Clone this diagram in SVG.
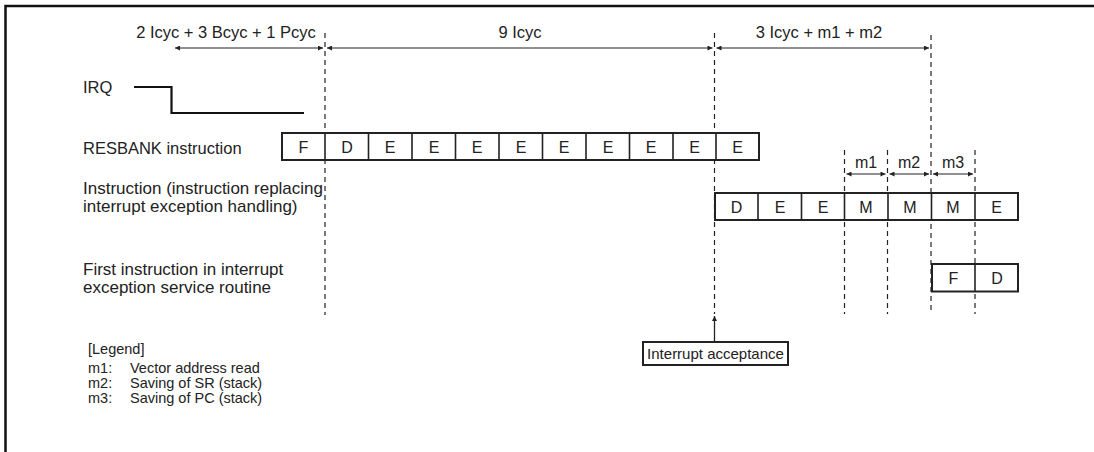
<svg xmlns="http://www.w3.org/2000/svg" width="1094" height="452" viewBox="0 0 1094 452">
<defs>
<marker id="ah" viewBox="0 0 10 10" refX="10" refY="5" markerWidth="7" markerHeight="5" orient="auto-start-reverse" markerUnits="userSpaceOnUse">
<path d="M0,0 L10,5 L0,10 z" fill="#222"/>
</marker>
<style>
text{font-family:"Liberation Sans",Arial,sans-serif;font-size:16.5px;fill:#222}
.c{text-anchor:middle}
.cl{text-anchor:middle;font-size:16px}
.rl{font-size:17px}
.lg{font-size:14.5px}
.box{fill:#fff;stroke:#222;stroke-width:2}
.cell{stroke:#222;stroke-width:1.6;fill:none}
.dash{stroke:#222;stroke-width:1.2;stroke-dasharray:5 4;fill:none}
.dim{stroke:#222;stroke-width:1;fill:none;marker-start:url(#ah);marker-end:url(#ah)}
</style>
</defs>
<rect width="1094" height="452" fill="#fff"/>
<path d="M5.5,452 V6 H1094" fill="none" stroke="#111" stroke-width="2.5"/>

<g id="connectors">
<line class="dash" x1="325" y1="33" x2="325" y2="315"/>
<line class="dash" x1="714.5" y1="33" x2="714.5" y2="314"/>
<line class="dash" x1="931" y1="35" x2="931" y2="314"/>
<line class="dash" x1="844.5" y1="150" x2="844.5" y2="314"/>
<line class="dash" x1="887.5" y1="150" x2="887.5" y2="314"/>
<line class="dash" x1="975" y1="150" x2="975" y2="314"/>
<line class="dim" x1="175" y1="48" x2="323" y2="48"/>
<line class="dim" x1="327" y1="48" x2="712.5" y2="48"/>
<line class="dim" x1="716.5" y1="48" x2="929" y2="48"/>
<line class="dim" x1="846.5" y1="174" x2="885.5" y2="174"/>
<line class="dim" x1="889.5" y1="174" x2="929" y2="174"/>
<line class="dim" x1="933" y1="174" x2="973" y2="174"/>
<line x1="714.5" y1="341" x2="714.5" y2="316" stroke="#222" stroke-width="1.3" marker-end="url(#ah)"/>
</g>

<g id="dim-labels">
<text class="c" x="226" y="38">2 Icyc + 3 Bcyc + 1 Pcyc</text>
<text class="c" x="520" y="38">9 Icyc</text>
<text class="c" x="819" y="38">3 Icyc + m1 + m2</text>
<text class="cl" x="866" y="168">m1</text>
<text class="cl" x="909" y="168">m2</text>
<text class="cl" x="953" y="168">m3</text>
</g>

<g id="irq">
<text x="83" y="93">IRQ</text>
<path d="M134,87 H171.5 V113 H304" fill="none" stroke="#111" stroke-width="2.2"/>
</g>

<g id="resbank">
<text x="83" y="154">RESBANK instruction</text>
<rect class="box" x="282" y="133" width="477" height="27"/>
<path class="cell" d="M325,133V160M368.5,133V160M412,133V160M455.5,133V160M499,133V160M542.5,133V160M586,133V160M629.5,133V160M673,133V160M716,133V160"/>
<text class="cl" x="303.5" y="152.5">F</text>
<text class="cl" x="347" y="152.5">D</text>
<text class="cl" x="390" y="152.5">E</text>
<text class="cl" x="434" y="152.5">E</text>
<text class="cl" x="477" y="152.5">E</text>
<text class="cl" x="521" y="152.5">E</text>
<text class="cl" x="564" y="152.5">E</text>
<text class="cl" x="608" y="152.5">E</text>
<text class="cl" x="651" y="152.5">E</text>
<text class="cl" x="694.5" y="152.5">E</text>
<text class="cl" x="737.5" y="152.5">E</text>
</g>

<g id="replacing">
<text class="rl" x="83" y="194">Instruction (instruction replacing</text>
<text class="rl" x="83" y="212">interrupt exception handling)</text>
<rect class="box" x="715" y="193" width="303" height="27"/>
<path class="cell" d="M758,193V220M801.5,193V220M844.5,193V220M888,193V220M931.5,193V220M975,193V220"/>
<text class="cl" x="736.5" y="212.5">D</text>
<text class="cl" x="780" y="212.5">E</text>
<text class="cl" x="823" y="212.5">E</text>
<text class="cl" x="866" y="212.5">M</text>
<text class="cl" x="910" y="212.5">M</text>
<text class="cl" x="953" y="212.5">M</text>
<text class="cl" x="996.5" y="212.5">E</text>
</g>

<g id="first">
<text class="rl" x="83" y="275">First instruction in interrupt</text>
<text class="rl" x="83" y="293">exception service routine</text>
<rect class="box" x="932" y="264" width="86" height="27.5"/>
<path class="cell" d="M975,264V291.5"/>
<text class="cl" x="953.5" y="283.5">F</text>
<text class="cl" x="997" y="283.5">D</text>
</g>

<g id="acceptance">
<rect class="box" x="643" y="342" width="145" height="23"/>
<text class="c" x="715.5" y="359" style="font-size:15px">Interrupt acceptance</text>
</g>

<g id="legend">
<text class="lg" x="88" y="354">[Legend]</text>
<text class="lg" x="88" y="373">m1:</text>
<text class="lg" x="130" y="373">Vector address read</text>
<text class="lg" x="88" y="388">m2:</text>
<text class="lg" x="130" y="388">Saving of SR (stack)</text>
<text class="lg" x="88" y="403">m3:</text>
<text class="lg" x="130" y="403">Saving of PC (stack)</text>
</g>
</svg>
